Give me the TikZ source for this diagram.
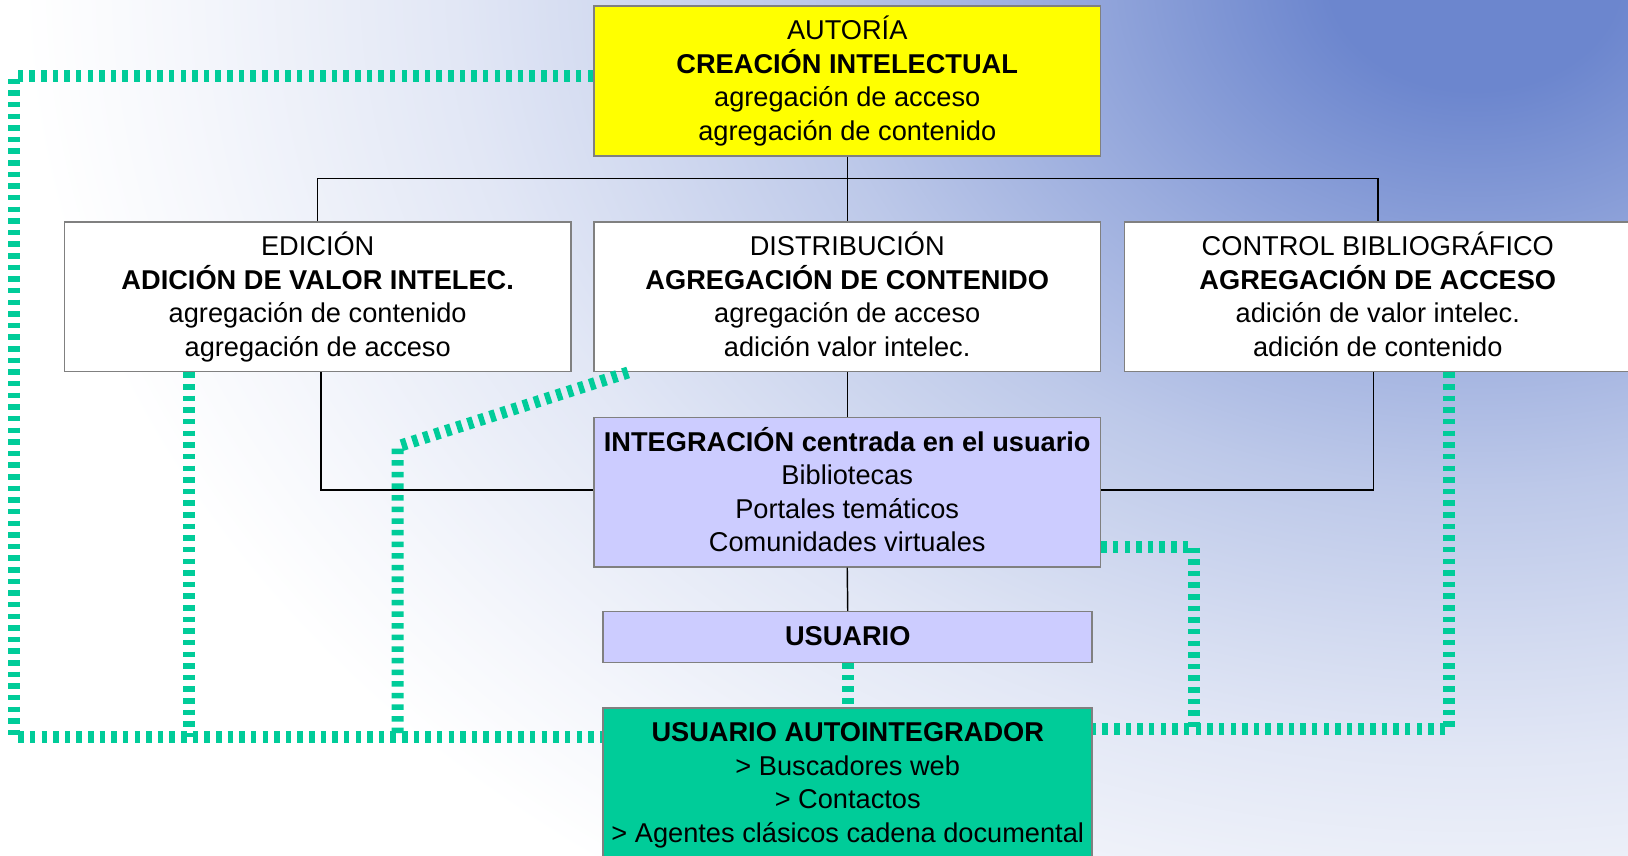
\documentclass[tikz,border=0pt]{standalone}
\usepackage{fontspec}
\setmainfont{Liberation Sans}
\definecolor{bgB}{RGB}{108,134,206}
\colorlet{c100}{bgB}
\colorlet{c68}{bgB!68!white}
\colorlet{c45}{bgB!45!white}
\colorlet{c30}{bgB!30!white}
\colorlet{c20}{bgB!20!white}
\colorlet{c06}{bgB!6!white}
\definecolor{boxgray}{RGB}{128,128,128}
\definecolor{lav}{RGB}{204,204,255}
\definecolor{autyellow}{RGB}{255,255,0}
\definecolor{autogreen}{RGB}{0,204,153}
\definecolor{dotgreen}{RGB}{0,204,153}
\pgfdeclareradialshading{bgshade}{\pgfpoint{0bp}{0bp}}{color(0bp)=(c100); color(2.5bp)=(c100); color(7.5bp)=(c68); color(11.5bp)=(c45); color(15bp)=(c30); color(17.5bp)=(c20); color(22.5bp)=(c06); color(25bp)=(white); color(50bp)=(white)}
\newcommand\dfont{\fontsize{26.2pt}{32.3pt}\selectfont}
\newcommand\lp{\vphantom{gÁ}}
\tikzset{
  box/.style={draw=boxgray, line width=1.5pt, minimum width=488pt, minimum height=144pt, inner sep=0pt, align=center, font=\dfont, text=black},
  conn/.style={draw=black, line width=1.4pt},
  gdot/.style={draw=dotgreen, line width=11.5pt, dash pattern=on 5.3pt off 5.9pt}
}
\begin{document}
\begin{tikzpicture}[x=1pt,y=-1pt]
\useasboundingbox (0,0) rectangle (1568,824);
\clip (0,0) rectangle (1568,824);
\fill[white] (0,0) rectangle (1568,824);
\shade[shading=bgshade] (1420,-20) ellipse [x radius=1400pt, y radius=1070pt];

% nodes
\node[box, fill=autyellow] (aut) at (816,78) {\lp AUTORÍA\\\textbf{CREACIÓN INTELECTUAL}\\agregación de acceso\\\lp agregación de contenido};
\node[box, fill=white] (edi) at (306,286) {\lp EDICIÓN\\\textbf{ADICIÓN DE VALOR INTELEC.}\\agregación de contenido\\\lp agregación de acceso};
\node[box, fill=white] (dis) at (816,286) {\lp DISTRIBUCIÓN\\\textbf{AGREGACIÓN DE CONTENIDO}\\agregación de acceso\\\lp adición valor intelec.};
\node[box, fill=white] (con) at (1327,286) {\lp CONTROL BIBLIOGRÁFICO\\\textbf{AGREGACIÓN DE ACCESO}\\adición de valor intelec.\\\lp adición de contenido};
\node[box, fill=lav] (int) at (816,474) {\lp\textbf{INTEGRACIÓN centrada en el usuario}\\Bibliotecas\\Portales temáticos\\\lp Comunidades virtuales};
\node[box, fill=lav, minimum width=471pt, minimum height=49pt] (usu) at (816.5,613.5) {\lp\textbf{USUARIO}};
\node[box, fill=autogreen, minimum width=471pt, minimum height=144pt] (auto) at (816.5,754) {\lp\textbf{USUARIO AUTOINTEGRADOR}\\> Buscadores web\\> Contactos\\\lp > Agentes clásicos cadena documental};

% tree connectors
\coordinate (h) at (816,172);
\coordinate (el) at (309,472);
\coordinate (cl) at (1323,472);
\draw[conn] (aut.south) -- (dis.north);
\draw[conn] (edi.north) -- (edi.north |- h) -- (con.north |- h) -- (con.north);
\draw[conn] (edi.south -| el) -- (el) -- (int.west |- el);
\draw[conn] (con.south -| cl) -- (cl) -- (int.east |- cl);
\draw[conn] (dis.south) -- (int.north);
\draw[conn] (int.south) -- (usu.north);

% green dotted connectors
\coordinate (tl) at (13.5,73.5);
\coordinate (bl) at (13.5,710);
\coordinate (e1) at (182,710);
\coordinate (d0) at (605,358);
\coordinate (d1) at (383,430);
\coordinate (d2) at (383,710);
\coordinate (r1) at (1150,527);
\coordinate (r2) at (1150,702);
\coordinate (c1) at (1396,702);
\draw[gdot] (aut.west |- tl) -- (tl) -- (bl) -- (auto.west |- bl);
\draw[gdot] (edi.south -| e1) -- (e1);
\draw[gdot] (dis.south -| d0) -- (d1) -- (d2);
\draw[gdot] (usu.south) -- (auto.north);
\draw[gdot] (int.east |- r1) -- (r1) -- (r2) -- (auto.east |- r2);
\draw[gdot] (con.south -| c1) -- (c1) -- (r2);
\end{tikzpicture}
\end{document}
